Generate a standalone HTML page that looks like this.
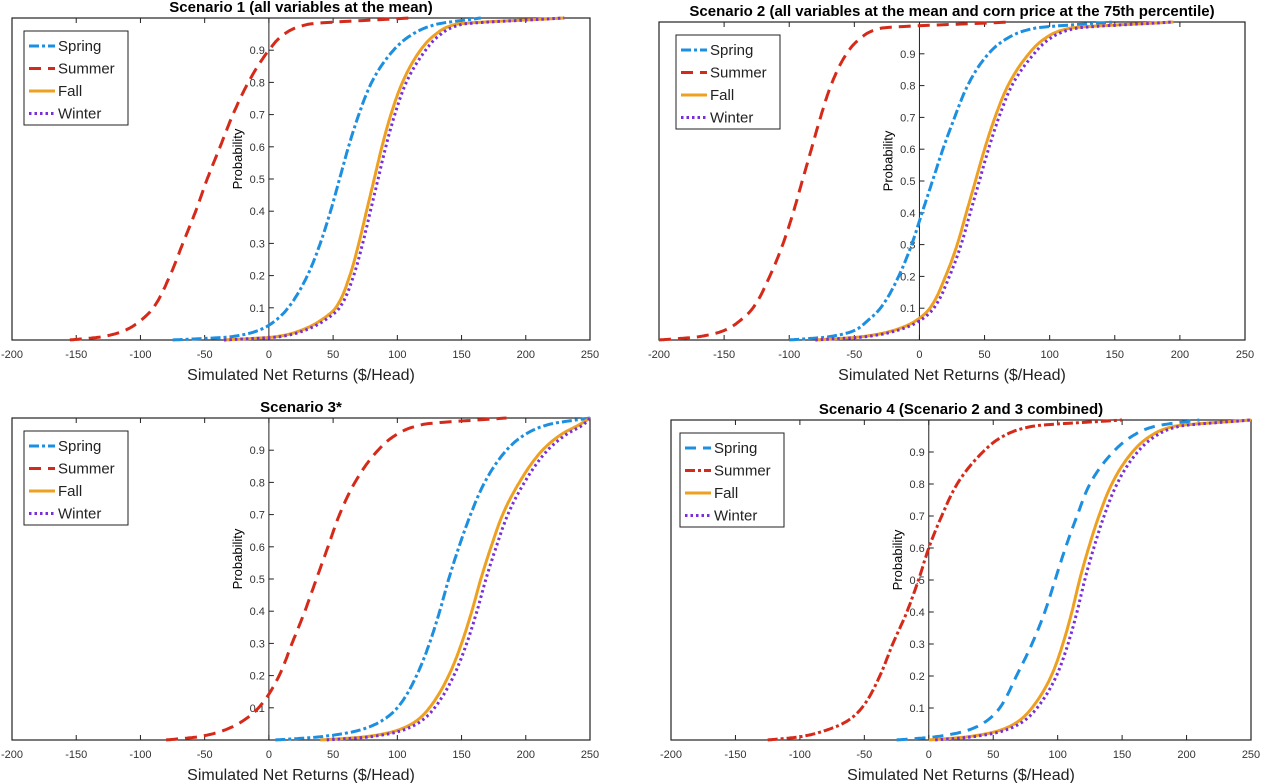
<!DOCTYPE html>
<html><head><meta charset="utf-8"><style>
body{margin:0;background:#fff;}
svg{display:block;font-family:"Liberation Sans",Arial,sans-serif;}
</style></head><body>
<svg id="chart" width="1261" height="783" viewBox="0 0 1261 783"></svg>
<script>
const probLevels = [0,0.01,0.03,0.06,0.1,0.2,0.3,0.4,0.5,0.6,0.7,0.8,0.9,0.95,0.98,1];
const xTicks = [-200,-150,-100,-50,0,50,100,150,200,250];
const yTicks = [0.1,0.2,0.3,0.4,0.5,0.6,0.7,0.8,0.9];
const seriesNames = ["Spring","Summer","Fall","Winter"];
const titles = ["Scenario 1 (all variables at the mean)","Scenario 2 (all variables at the mean and corn price at the 75th percentile)","Scenario 3*","Scenario 4 (Scenario 2 and 3 combined)"];
// quantiles (x value reached at each probability level)
const s1Spring = [-75,-30,-8,5,15,30,40,48,55,62,70,80,97,112,130,165];
const s1Summer = [-155,-130,-112,-100,-90,-77,-67,-57,-48,-38,-28,-16,0,12,30,110];
const s1Fall   = [-35,5,25,40,52,63,70,76,82,88,95,104,118,130,145,230];
const s1Winter = [-35,8,28,43,55,66,73,79,85,91,98,107,122,134,150,230];
const s2Spring = [-100,-70,-50,-40,-30,-16,-6,2,10,18,27,37,53,68,88,150];
const s2Summer = [-200,-170,-150,-138,-128,-115,-105,-97,-90,-83,-76,-68,-56,-45,-30,70];
const s2Fall   = [-80,-45,-20,-3,8,20,29,36,43,50,58,68,84,97,115,195];
const s2Winter = [-80,-42,-17,0,11,23,32,39,46,53,61,71,88,101,120,195];
const s3Spring = [5,40,70,88,100,115,125,133,140,148,157,168,185,200,218,250];
const s3Summer = [-80,-55,-35,-20,-8,8,18,28,37,46,55,67,85,100,120,185];
const s3Fall   = [40,75,100,115,125,140,150,158,165,173,182,195,213,228,242,250];
const s3Winter = [45,79,104,119,129,144,154,162,169,177,186,199,217,232,245,250];
const s4Spring = [-25,5,30,45,55,68,80,90,98,106,115,125,143,158,175,210];
const s4Summer = [-125,-100,-80,-63,-52,-38,-28,-17,-8,0,10,22,42,58,80,150];
const s4Fall   = [0,30,55,70,80,95,104,111,117,124,132,142,158,172,190,250];
const s4Winter = [5,34,59,74,84,99,108,115,121,128,136,146,162,176,194,250];

const panels = [
 {box:[12,18,590,340], data:[s1Spring,s1Summer,s1Fall,s1Winter], leg:[24,31], springDash:"10,3,3,3", summerDash:"12,7"},
 {box:[659,22,1245,340], data:[s2Spring,s2Summer,s2Fall,s2Winter], leg:[676,35], springDash:"10,3,3,3", summerDash:"12,7"},
 {box:[12,418,590,740], data:[s3Spring,s3Summer,s3Fall,s3Winter], leg:[24,431], springDash:"10,3,3,3", summerDash:"12,7"},
 {box:[671,420,1251,740], data:[s4Spring,s4Summer,s4Fall,s4Winter], leg:[680,433], springDash:"11,7", summerDash:"10,3,3,3"}
];
const NS="http://www.w3.org/2000/svg";
const svg=document.getElementById('chart');
function mk(t,a,p){const e=document.createElementNS(NS,t);for(const k in a)e.setAttribute(k,a[k]);(p||svg).appendChild(e);return e;}
// monotone cubic (Fritsch-Carlson) of x as a function of p
function monoSample(P,X){const n=P.length,d=[],m=[];
 for(let i=0;i<n-1;i++)d.push((X[i+1]-X[i])/(P[i+1]-P[i]));
 m[0]=d[0];m[n-1]=d[n-2];
 for(let i=1;i<n-1;i++){if(d[i-1]*d[i]<=0)m[i]=0;else{const h0=P[i]-P[i-1],h1=P[i+1]-P[i];
   const w1=(2*h1+h0)/(3*(h0+h1)),w2=(h1+2*h0)/(3*(h0+h1));m[i]=1/(w1/d[i-1]+w2/d[i]);}}
 const out=[];
 for(let i=0;i<n-1;i++){const h=P[i+1]-P[i];for(let k=0;k<20;k++){const t=k/20,t2=t*t,t3=t2*t;
  const x=(2*t3-3*t2+1)*X[i]+(t3-2*t2+t)*h*m[i]+(-2*t3+3*t2)*X[i+1]+(t3-t2)*h*m[i+1];
  out.push([x,P[i]+t*h]);}}
 out.push([X[n-1],P[n-1]]);return out;}
panels.forEach((P,pi)=>{
 const [x0,y0,x1,y1]=P.box;
 const g=mk('g',{});
 
 
 const xs=v=>x0+(v+200)/450*(x1-x0), ys=p=>y1-p*(y1-y0);
 const t=mk('text',{x:(x0+x1)/2,y:y0-6,'text-anchor':'middle','font-size':15,'font-weight':'bold'},g);t.textContent=titles[pi];
 
 const fr=mk('rect',{x:x0,y:y0,width:x1-x0,height:y1-y0,fill:'none',stroke:'#222','stroke-width':1.2},g);
 
 xTicks.forEach(v=>{const X=xs(v);
  mk('line',{x1:X,y1:y1,x2:X,y2:y1-5,stroke:'#222'},g);mk('line',{x1:X,y1:y0,x2:X,y2:y0+5,stroke:'#222'},g);
  const l=mk('text',{x:X,y:y1+18,'text-anchor':'middle','font-size':11,fill:'#333'},g);l.textContent=v;
  });
 const zx=xs(0);
 const ya=mk('line',{x1:zx,y1:y0,x2:zx,y2:y1,stroke:'#222','stroke-width':1},g);
 
 yTicks.forEach(v=>{const Y=ys(v);mk('line',{x1:zx,y1:Y,x2:zx+5,y2:Y,stroke:'#222'},g);
  const l=mk('text',{x:zx-4,y:Y+4,'text-anchor':'end','font-size':11,fill:'#333'},g);l.textContent=v;
  });
 const yt=mk('text',{x:0,y:0,transform:`translate(${zx-27},${(y0+y1)/2-20}) rotate(-90)`,'text-anchor':'middle','font-size':13},g);yt.textContent='Probability';
 
 const xt=mk('text',{x:(x0+x1)/2,y:y1+40,'text-anchor':'middle','font-size':16,fill:'#222'},g);xt.textContent='Simulated Net Returns ($/Head)';
 
 const styles=[{c:'#1d8fe1',w:3,d:P.springDash},{c:'#d52a1a',w:3,d:P.summerDash},{c:'#eea021',w:3,d:''},{c:'#7a2ed8',w:3,d:'2.5,3'}];
 const order=[1,0,2,3];
 order.forEach(si=>{const q=P.data[si];
  const pts=monoSample(probLevels,q).map(([v,p])=>[xs(Math.max(-200,Math.min(250,v))),ys(p)]);
  const d="M"+pts.map(p=>p[0].toFixed(1)+","+p[1].toFixed(1)).join(" L");
  const path=mk('path',{d:d,fill:'none',stroke:styles[si].c,'stroke-width':styles[si].w,'stroke-dasharray':styles[si].d,'stroke-linejoin':'round'},g);
  });
 const [lx,ly]=P.leg;
 const lg=mk('g',{},g);
 
 mk('rect',{x:lx,y:ly,width:104,height:94,fill:'#fff',stroke:'#222'},lg);
 seriesNames.forEach((n,i)=>{const Y=ly+15+i*22.5;
  mk('line',{x1:lx+5,y1:Y,x2:lx+31,y2:Y,stroke:styles[i].c,'stroke-width':3,'stroke-dasharray':styles[i].d},lg);
  const tt=mk('text',{x:lx+34,y:Y+5,'font-size':15,fill:'#222'},lg);tt.textContent=n;
  });
});
</script>
</body></html>
